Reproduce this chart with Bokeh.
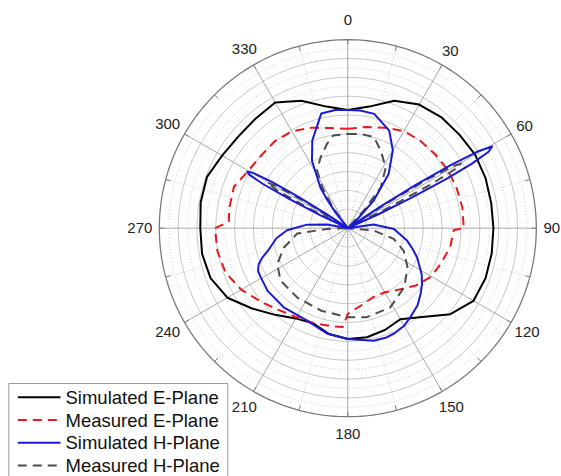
import numpy as np
from bokeh.plotting import figure
from bokeh.models import Range1d
from bokeh.embed import file_html
from bokeh.resources import INLINE
from bokeh.core.properties import value

# ---------------- data (dB, angle in degrees clockwise from top) ----------------
angle_ticks = [0, 30, 60, 90, 120, 150, 180, 210, 240, 270, 300, 330]
angle_labels = ["0", "30", "60", "90", "120", "150", "180", "210", "240", "270", "300", "330"]

sim_e_ang = [0, 10, 20, 30, 40, 50, 60, 70, 80, 90, 100, 110, 120, 130, 140, 150, 160, 170,
             180, 190, 200, 210, 220, 230, 240, 250, 260, 270, 280, 290, 300, 310, 320, 330,
             340, 350, 360]
sim_e_db = [-14.9, -13.8, -11.2, -9.7, -9.2, -9.1, -8.8, -8.9, -9.1, -9.1, -9.0, -8.9, -9.2,
            -11.6, -15.4, -17.7, -17.0, -16.5, -16.5, -17.2, -18.5, -17.9, -16.0, -13.5,
            -10.5, -9.0, -8.6, -8.7, -8.3, -8.2, -9.2, -9.7, -9.6, -9.2, -11.2, -13.8, -14.9]

meas_e_ang = [0, 10, 20, 30, 40, 50, 60, 70, 80, 90, 91, 100, 110, 120, 130, 140, 150, 160,
              170, 180, 183, 190, 200, 210, 220, 230, 240, 250, 260, 270, 273, 280, 290, 300,
              310, 320, 330, 340, 350, 360]
meas_e_db = [-18.9, -18.2, -17.3, -16.2, -15.9, -15.7, -15.4, -15.4, -15.3, -15.4, -17.5,
             -17.9, -18.8, -19.5, -21.1, -23.0, -24.3, -24.4, -23.4, -21.8, -19.0, -18.9,
             -18.6, -18.2, -17.3, -15.8, -13.9, -12.4, -11.9, -11.8, -14.7, -14.5, -14.3,
             -15.6, -16.0, -15.9, -16.3, -17.3, -18.4, -18.9]

sim_h_ang = [0, 6, 13, 23, 30, 37, 43, 46, 48, 55, 56.5, 57.5, 58.5, 59.5, 60.5, 61.5, 62.5,
             63.5, 64.5, 65.5, 67, 79, 82, 91, 102, 108, 113, 122, 127, 132, 138, 145, 150,
             156, 161, 167, 180, 191, 197, 204, 219, 232, 241, 244.5, 248, 251, 254, 262,
             268, 275, 280, 283, 293, 295, 296.5, 297.5, 298.5, 299.3, 300.3, 301.3, 302.3,
             303.5, 305, 318, 322, 324, 326, 332, 338, 347, 354, 360]
sim_h_db = [-14.9, -14.9, -15.1, -17.5, -20.9, -25.6, -31.9, -36.8, -40.0, -40.0, -31.5,
            -23.0, -14.5, -7.7, -4.8, -6.0, -10.3, -16.7, -25.1, -32.6, -40.0, -40.0, -34.5,
            -30.2, -27.1, -25.5, -24.0, -21.5, -20.3, -19.2, -17.9, -16.9, -16.1, -15.6,
            -15.4, -15.5, -16.5, -17.2, -18.0, -18.6, -18.4, -18.4, -18.8, -18.9, -19.6,
            -20.8, -22.3, -24.7, -27.1, -31.3, -35.5, -40.0, -40.0, -33.6, -26.2, -19.8,
            -16.2, -15.5, -16.7, -20.9, -27.3, -34.7, -40.0, -40.0, -35.8, -32.6, -29.6,
            -23.8, -19.9, -15.0, -14.8, -14.9]

meas_h_ang = [0, 8, 16, 23, 32, 39, 42, 44, 56, 57.5, 58.5, 59.5, 60.3, 61.2, 62.2, 63.2,
              64.5, 88, 95, 103, 112, 123, 136, 152, 168, 180, 198, 216, 232, 243, 253, 264,
              268, 271, 295, 297, 298.2, 299.5, 300.8, 302, 304, 321, 324, 328, 332, 339,
              346, 351, 360]
meas_h_db = [-20.0, -19.8, -19.9, -22.1, -24.8, -28.9, -34.7, -40.0, -40.0, -29.4, -19.8,
             -14.1, -12.4, -14.1, -19.8, -29.4, -40.0, -40.0, -34.5, -30.0, -27.2, -24.9,
             -22.7, -20.9, -20.7, -21.1, -21.6, -21.8, -21.9, -23.2, -25.8, -29.2, -35.6,
             -40.0, -40.0, -30.5, -23.0, -20.3, -23.0, -30.5, -40.0, -40.0, -34.7, -29.8,
             -26.1, -23.9, -21.6, -20.1, -20.0]

series_names = ["Simulated E-Plane", "Measured E-Plane", "Simulated H-Plane", "Measured H-Plane"]

# ---------------- layout / style ----------------
R_MIN, R_MAX, RING_STEP = -40.0, 0.0, 2.0
CX, CY = 347.3, 227.7      # centre in page pixels
RADIUS = 188.5             # outer ring radius in pixels
X0, Y0 = 0, 0              # page offset of the figure
W, H = 561, 476
LABEL_R = [208, 205, 204, 204, 207, 207, 206, 207, 208, 208, 208, 207]

def polar_xy(ang, db):
    ang = np.asarray(ang, dtype=float)
    db = np.clip(np.asarray(db, dtype=float), R_MIN, R_MAX)
    r = (db - R_MIN) / (R_MAX - R_MIN) * RADIUS
    t = np.radians(ang)
    return r * np.sin(t), r * np.cos(t)

def sx(x):
    return x - CX

def sy(y):
    return CY - y

p = figure(width=W, height=H, x_range=Range1d(X0 - CX, X0 + W - CX),
           y_range=Range1d(CY - (Y0 + H), CY - Y0), output_backend="svg",
           toolbar_location=None, x_axis_type=None, y_axis_type=None, min_border=0)
p.grid.visible = False
p.outline_line_color = None
p.background_fill_color = "white"
p.border_fill_color = "white"

# rings
th = np.linspace(0, 2 * np.pi, 361)
n_rings = int(round((R_MAX - R_MIN) / RING_STEP))
solid_xs, solid_ys, dot_xs, dot_ys = [], [], [], []
for k in range(1, n_rings):
    rr = k / n_rings * RADIUS
    if k % 2 == 0:
        solid_xs.append(list(rr * np.sin(th))); solid_ys.append(list(rr * np.cos(th)))
    else:
        dot_xs.append(list(rr * np.sin(th))); dot_ys.append(list(rr * np.cos(th)))
p.multi_line(dot_xs, dot_ys, line_color="#cfcfcf", line_width=1, line_dash="1 2")
p.multi_line(solid_xs, solid_ys, line_color="#c6c6c6", line_width=1)

# spokes
sp_x, sp_y, dsp_x, dsp_y = [], [], [], []
for a in range(0, 360, 15):
    t = np.radians(a)
    seg_x = [0, RADIUS * np.sin(t)]
    seg_y = [0, RADIUS * np.cos(t)]
    if a % 30 == 0:
        sp_x.append(seg_x); sp_y.append(seg_y)
    else:
        dsp_x.append(seg_x); dsp_y.append(seg_y)
p.multi_line(dsp_x, dsp_y, line_color="#cfcfcf", line_width=1, line_dash="1 2")
p.multi_line(sp_x, sp_y, line_color="#a9a9a9", line_width=1)

# outer circle + ticks
p.line(RADIUS * np.sin(th), RADIUS * np.cos(th), line_color="#7a7a7a", line_width=1.3)
tk_x, tk_y = [], []
for a in range(0, 360, 15):
    t = np.radians(a)
    tk_x.append([RADIUS * np.sin(t), (RADIUS - 5) * np.sin(t)])
    tk_y.append([RADIUS * np.cos(t), (RADIUS - 5) * np.cos(t)])
p.multi_line(tk_x, tk_y, line_color="#7a7a7a", line_width=1)

# angle labels
lx = [lr * np.sin(np.radians(a)) for a, lr in zip(angle_ticks, LABEL_R)]
ly = [lr * np.cos(np.radians(a)) for a, lr in zip(angle_ticks, LABEL_R)]
p.text(lx, ly, text=angle_labels, text_align="center", text_baseline="middle",
       text_font=value("Liberation Sans"), text_font_size="15px", text_color="#222222")

# data curves
colors = ["#000000", "#e8191c", "#1a1ad2", "#4d4d4d"]
dashes = ["solid", "9 6", "solid", "9 6"]
for ang, db, c, d in [(sim_e_ang, sim_e_db, colors[0], dashes[0]),
                      (meas_e_ang, meas_e_db, colors[1], dashes[1]),
                      (meas_h_ang, meas_h_db, colors[3], dashes[3]),
                      (sim_h_ang, sim_h_db, colors[2], dashes[2])]:
    x, y = polar_xy(ang, db)
    p.line(x, y, line_color=c, line_width=2, line_dash=d, line_join="round")

# legend box
p.quad(left=sx(8.3), right=sx(227.3), top=sy(383.0), bottom=sy(490), fill_color="white",
       line_color="#9a9a9a", line_width=1)
row_y = [396.7, 419.5, 442.3, 465.0]
for i, name in enumerate(series_names):
    p.line([sx(17.3), sx(60.0)], [sy(row_y[i]), sy(row_y[i])], line_color=colors[i],
           line_width=2, line_dash=dashes[i])
p.text([sx(65.0)] * 4, [sy(v) for v in row_y], text=series_names, text_align="left",
       text_baseline="middle", text_font=value("Liberation Sans"), text_font_size="18.5px",
       text_color="#111111")

open("out.html", "w").write(file_html(p, INLINE))
